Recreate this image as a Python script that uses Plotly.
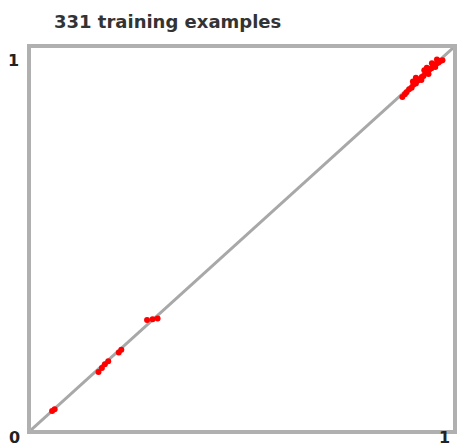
import plotly.graph_objects as go

actual = [0.050, 0.056, 0.160, 0.168, 0.175, 0.183, 0.208, 0.214, 0.275, 0.288, 0.300,
          0.880, 0.886, 0.890, 0.896, 0.902, 0.906, 0.912, 0.916, 0.921, 0.926, 0.930,
          0.935, 0.940, 0.944, 0.949, 0.953, 0.958, 0.962, 0.966, 0.970, 0.975, 0.912,
          0.932, 0.950, 0.942, 0.925, 0.958, 0.905, 0.938, 0.962]
predicted = [0.872, 0.054, 0.152, 0.162, 0.172, 0.180, 0.203, 0.210, 0.288, 0.290, 0.292,
             0.872, 0.879, 0.884, 0.892, 0.896, 0.904, 0.907, 0.914, 0.918, 0.924, 0.927,
             0.934, 0.938, 0.944, 0.947, 0.952, 0.956, 0.960, 0.962, 0.966, 0.968, 0.922,
             0.942, 0.960, 0.932, 0.916, 0.950, 0.912, 0.948, 0.970]
predicted[0] = 0.050
diag = [0, 1]
title_text = "331 training examples"
tick_labels = ["0", "1", "1"]

fig = go.Figure()
fig.add_trace(go.Scatter(x=diag, y=diag, mode="lines",
                         line=dict(color="#a8a8a8", width=3), hoverinfo="skip"))
fig.add_trace(go.Scatter(x=actual, y=predicted, mode="markers",
                         marker=dict(color="#ff0000", size=6, line=dict(width=0))))

font = dict(family="DejaVu Sans", size=16, color="#222222")
fig.update_layout(
    width=462, height=448,
    margin=dict(l=31, r=5, t=48, b=18),
    paper_bgcolor="white", plot_bgcolor="white",
    showlegend=False,
    xaxis=dict(range=[0, 1], showgrid=False, zeroline=False, showticklabels=False,
               ticks="", showline=True, mirror=True, linecolor="#b0b0b0", linewidth=4),
    yaxis=dict(range=[0, 1], showgrid=False, zeroline=False, showticklabels=False,
               ticks="", showline=True, mirror=True, linecolor="#b0b0b0", linewidth=4),
    annotations=[
        dict(text="<b>" + title_text + "</b>", xref="paper", yref="paper", x=0.05, y=1.0, yshift=27,
             xanchor="left", yanchor="middle", showarrow=False,
             font=dict(family="DejaVu Sans", size=18, color="#333333")),
        dict(text="<b>" + tick_labels[0] + "</b>", xref="paper", yref="paper", x=0, y=0, xshift=-17, yshift=-7,
             xanchor="center", yanchor="middle", showarrow=False, font=font),
        dict(text="<b>" + tick_labels[1] + "</b>", xref="paper", yref="paper", x=0, y=1, xshift=-18, yshift=-12,
             xanchor="center", yanchor="middle", showarrow=False, font=font),
        dict(text="<b>" + tick_labels[2] + "</b>", xref="paper", yref="paper", x=1, y=0, xshift=-9, yshift=-7,
             xanchor="center", yanchor="middle", showarrow=False, font=font),
    ],
)
fig.write_html("out.html", config={"displayModeBar": False},
               post_script="document.body.style.margin='0';")
